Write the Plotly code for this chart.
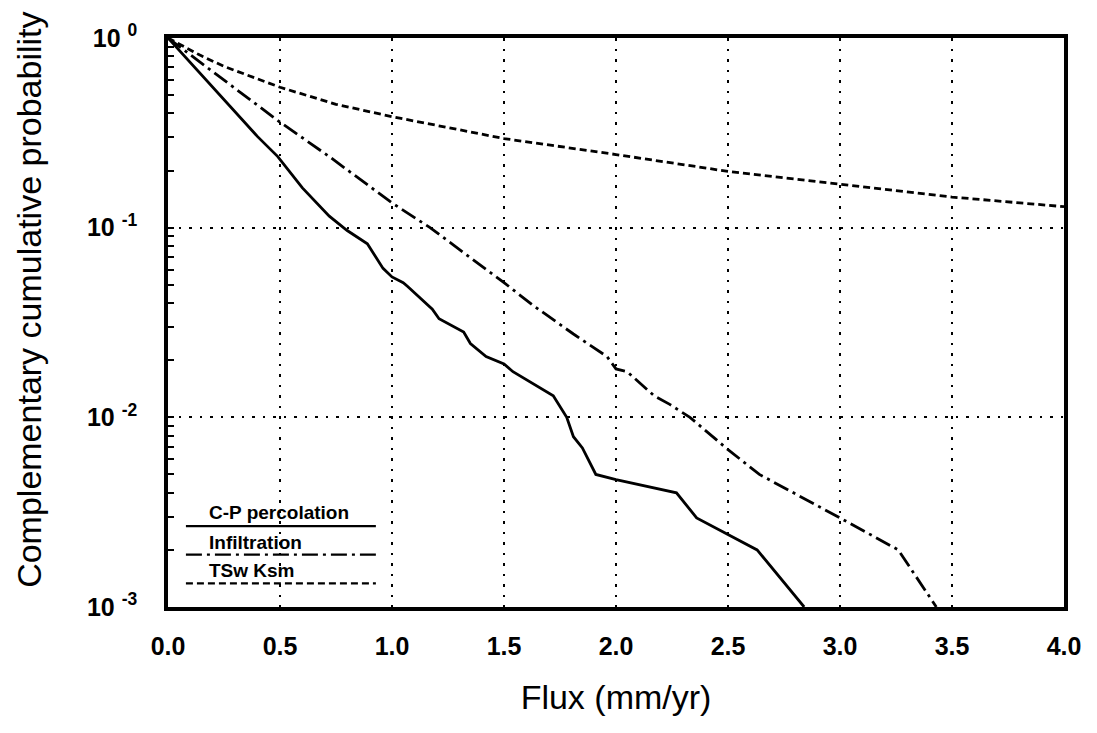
import plotly.graph_objects as go

# ---- data ----
cp_x = [0, 0.20, 0.40, 0.49, 0.60, 0.72, 0.80, 0.89, 0.96, 1.00, 1.05, 1.07, 1.18, 1.21,
        1.32, 1.35, 1.42, 1.50, 1.54, 1.72, 1.78, 1.81, 1.85, 1.91, 2.00, 2.27, 2.36, 2.63, 2.84]
cp_p = [1.0, 0.55, 0.302, 0.237, 0.162, 0.115, 0.0966, 0.0822, 0.061, 0.055, 0.0513, 0.049,
        0.0372, 0.0331, 0.0282, 0.0245, 0.0209, 0.0191, 0.0174, 0.013, 0.010, 0.0079, 0.0069,
        0.0050, 0.0047, 0.0040, 0.00295, 0.0020, 0.001]

inf_x = [0, 0.25, 0.50, 0.72, 1.00, 1.17, 1.50, 1.63, 1.81, 1.96, 2.00, 2.05, 2.17, 2.24,
         2.33, 2.50, 2.64, 3.00, 3.26, 3.43]
inf_p = [1.0, 0.603, 0.36, 0.237, 0.135, 0.10, 0.0513, 0.0389, 0.0275, 0.0209, 0.018, 0.0174,
         0.013, 0.0117, 0.010, 0.00676, 0.0050, 0.00295, 0.0020, 0.001]

ksm_x = [0, 0.14, 0.25, 0.50, 0.75, 1.00, 1.50, 2.00, 2.50, 3.00, 3.50, 4.00]
ksm_p = [1.0, 0.815, 0.708, 0.55, 0.447, 0.385, 0.295, 0.243, 0.198, 0.169, 0.145, 0.129]

series_names = ["C-P percolation", "Infiltration", "TSw Ksm"]
x_ticks = [0.0, 0.5, 1.0, 1.5, 2.0, 2.5, 3.0, 3.5, 4.0]
x_ticktext = ["0.0", "0.5", "1.0", "1.5", "2.0", "2.5", "3.0", "3.5", "4.0"]
y_ticks = [1, 0.1, 0.01, 0.001]
y_ticktext = ["10 <sup>0</sup>", "10 <sup>-1</sup>", "10 <sup>-2</sup>", "10 <sup>-3</sup>"]
y_minor = [k * 10.0 ** e for e in (-3, -2, -1) for k in range(2, 10)]

FONT = "Liberation Sans, Arial, Helvetica, sans-serif"
dashdot = "16px,5px,3px,5px"
dashed = "7px,4px"
LW = 2.8
styles = [dict(color="black", width=LW),
          dict(color="black", width=LW, dash=dashdot),
          dict(color="black", width=LW, dash=dashed)]

fig = go.Figure()
for (xs, ps), name, st in zip([(cp_x, cp_p), (inf_x, inf_p), (ksm_x, ksm_p)], series_names, styles):
    fig.add_trace(go.Scatter(x=xs, y=ps, mode="lines", name=name, line=st, showlegend=False))

grid_dash = "2.5px,8px"
fig.update_layout(
    width=1097, height=733,
    # page body has an 8px margin, so margins are shifted to keep the plot area in place
    margin=dict(l=160, r=41, t=22, b=134),
    paper_bgcolor="white", plot_bgcolor="white",
    font=dict(family=FONT, color="black"),
    xaxis=dict(
        range=[0, 4], tickvals=x_ticks, ticktext=x_ticktext,
        showgrid=True, gridcolor="black", gridwidth=2, griddash=grid_dash,
        showline=True, linecolor="black", linewidth=3.5, mirror=True,
        ticks="", zeroline=False,
        tickfont=dict(size=25, family=FONT, weight="bold"),
        ticklabelstandoff=14,
        title=dict(text="Flux (mm/yr)", font=dict(size=34, family=FONT), standoff=27),
    ),
    yaxis=dict(
        type="log", range=[-3, 0], tickvals=y_ticks, ticktext=y_ticktext,
        showgrid=True, gridcolor="black", gridwidth=2, griddash=grid_dash,
        showline=True, linecolor="black", linewidth=3.5, mirror=True,
        ticks="inside", ticklen=6, tickwidth=2, tickcolor="black", zeroline=False,
        minor=dict(tickvals=y_minor, ticks="inside", ticklen=6, tickwidth=2,
                   tickcolor="black", showgrid=False),
        tickfont=dict(size=25, family=FONT, weight="bold"),
        ticklabelstandoff=22,
    ),
)

# y-axis title (placed as in the reference, slightly above the plot centre)
fig.add_annotation(text="Complementary cumulative probability", textangle=-90,
                   xref="paper", yref="paper", x=-0.155, y=0.54, xanchor="center",
                   yanchor="middle", showarrow=False, font=dict(size=34, family=FONT))

# custom legend: label above its line sample
leg_text_y = [0.166, 0.114, 0.065]
leg_line_y = [0.142, 0.092, 0.0416]
for name, st, ty, ly in zip(series_names, styles, leg_text_y, leg_line_y):
    fig.add_annotation(text="<b>" + name + "</b>", xref="paper", yref="paper",
                       x=0.0435, y=ty, xanchor="left", yanchor="middle", showarrow=False,
                       font=dict(size=19, family=FONT))
    fig.add_shape(type="line", xref="paper", yref="paper", x0=0.020, x1=0.232, y0=ly, y1=ly,
                  line=dict(color="black", width=2.2, dash=st.get("dash", "solid")))

fig.write_html("out.html")
